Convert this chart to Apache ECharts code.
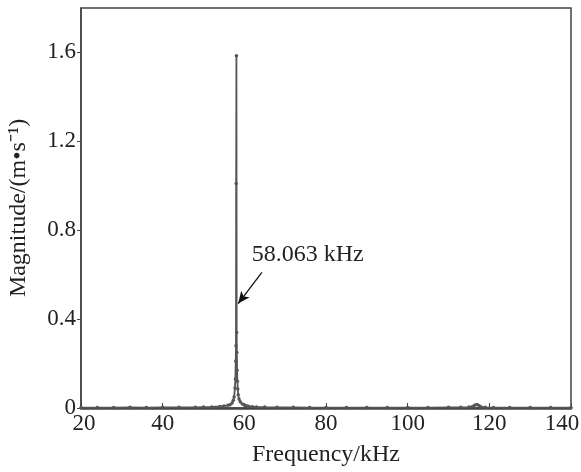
<!DOCTYPE html>
<html>
<head>
<meta charset="utf-8">
<script src="https://cdn.jsdelivr.net/npm/echarts@6/dist/echarts.min.js"></script>
<style>html,body{margin:0;padding:0;background:#fff;}#c{width:581px;height:472px;}</style>
</head>
<body>
<div id="c"></div>
<script>
// Spectrum data (frequency in kHz, magnitude in m/s)
const freq = [20,24,28,32,36,40,44,48,50,52,54,55,56,56.5,57,57.3,57.5,57.7,57.8,57.9,57.95,58.0,58.063,58.12,58.17,58.22,58.3,58.4,58.5,58.7,59,59.5,60,60.5,61,62,63,65,68,72,76,80,85,90,95,100,105,110,113,115,116,116.5,117,117.5,118,119,121,125,130,135,140];
const magnitude = [0.002,0.002,0.002,0.003,0.002,0.003,0.003,0.003,0.004,0.005,0.007,0.009,0.012,0.015,0.022,0.035,0.05,0.09,0.13,0.21,0.28,1.01,1.585,0.34,0.25,0.17,0.12,0.085,0.06,0.04,0.028,0.018,0.013,0.01,0.008,0.006,0.005,0.004,0.003,0.003,0.002,0.002,0.002,0.002,0.002,0.002,0.002,0.003,0.003,0.004,0.008,0.014,0.016,0.01,0.005,0.003,0.002,0.002,0.002,0.002,0.002];
const xTicks = [20,40,60,80,100,120,140];
const yTicks = [0,0.4,0.8,1.2,1.6];
const peakLabel = '58.063 kHz';
const peakArrowTail = [64.3, 0.61];
const peakArrowHead = [58.5, 0.47];
const peakTextAnchor = [61.8, 0.69];

const font = 'Liberation Serif';
const axisColor = '#444';
const chart = echarts.init(document.getElementById('c'));
const points = freq.map((f,i)=>[f, magnitude[i]]);
const xMax = xTicks[xTicks.length-1];
chart.setOption({
  animation:false,
  backgroundColor:'#fff',
  grid:{left:81,right:10,top:8,bottom:64,show:true,borderColor:axisColor,borderWidth:1.5,outerBoundsMode:'none',containLabel:false},
  xAxis:{
    type:'value',min:xTicks[0],max:xMax,interval:20,
    name:'Frequency/kHz',nameLocation:'middle',nameGap:35,
    nameTextStyle:{fontFamily:font,fontSize:24,color:'#222'},
    axisLine:{show:true,lineStyle:{color:axisColor,width:2.5}},
    axisTick:{show:true,inside:true,length:5,lineStyle:{color:axisColor,width:1}},
    axisLabel:{fontFamily:font,fontSize:23,color:'#222',margin:4,
      formatter:v=> v===xMax ? '{r|'+v+'}' : (v===xTicks[0] ? '{l|'+v+'}' : String(v)),
      rich:{
        r:{fontFamily:font,fontSize:23,color:'#222',padding:[0,18,0,0]},
        l:{fontFamily:font,fontSize:23,color:'#222',padding:[0,0,0,6]}
      }},
    splitLine:{show:false}
  },
  yAxis:{
    type:'value',min:0,max:1.8,interval:0.4,
    name:'Magnitude/(m\u2022s\u207B\u00B9)',nameLocation:'middle',nameGap:50,nameRotate:90,
    nameTextStyle:{fontFamily:font,fontSize:24,color:'#222'},
    axisLine:{show:true,lineStyle:{color:axisColor,width:1.5}},
    axisTick:{show:true,inside:false,length:4,lineStyle:{color:axisColor,width:1}},
    axisLabel:{fontFamily:font,fontSize:23,color:'#222',margin:5,showMaxLabel:false,
      formatter:v=> yTicks.some(t=>Math.abs(t-v)<1e-9) ? String(+v.toFixed(1)) : ''},
    splitLine:{show:false}
  },
  series:[{
    type:'line',data:points,
    symbol:'circle',symbolSize:3.5,showSymbol:true,
    lineStyle:{color:'#555',width:1.8},
    itemStyle:{color:'#555'},
    markLine:{
      silent:true,symbol:['none','arrow'],symbolSize:[8,12],
      lineStyle:{color:'#111',width:1.3,type:'solid'},
      label:{show:false},
      data:[[{coord:peakArrowTail},{coord:peakArrowHead}]]
    },
    markPoint:{
      silent:true,symbol:'circle',symbolSize:0,
      data:[{coord:peakTextAnchor,value:peakLabel}],
      label:{show:true,position:'right',distance:0,formatter:peakLabel,
        fontFamily:font,fontSize:24,color:'#222'}
    }
  }]
});
</script>
</body>
</html>
